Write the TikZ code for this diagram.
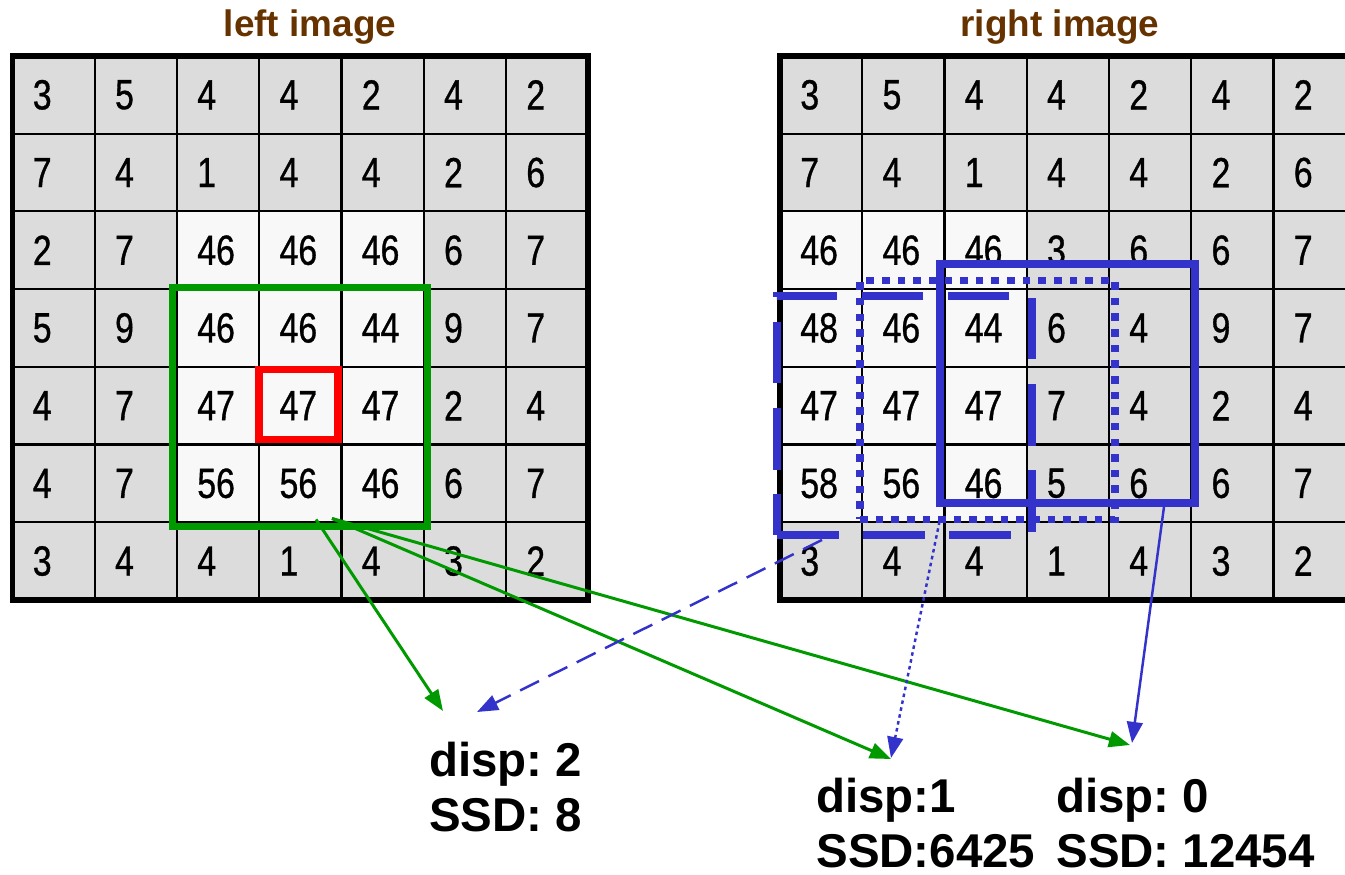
\documentclass[tikz,border=0pt]{standalone}
\usepackage{fontspec}
\setmainfont{Liberation Sans}
\newfontfamily\cellfont[FakeStretch=0.8, FakeBold=0.8]{Liberation Sans}
\usetikzlibrary{arrows.meta, positioning}
\definecolor{winGreen}{RGB}{0,153,0}
\definecolor{winBlue}{RGB}{51,51,204}
\definecolor{titleBrown}{RGB}{102,51,0}
\definecolor{cellGrey}{RGB}{220,220,220}
\definecolor{cellWhite}{RGB}{248,248,248}
\def\cellw{82.25}
\def\cellh{77.7}
\frenchspacing

\begin{document}
\begin{tikzpicture}[x=0.02cm, y=-0.02cm,
  val/.style={anchor=west, inner sep=0pt, font=\cellfont\fontsize{24}{24}\selectfont},
  title/.style={anchor=base, text=titleBrown, font=\bfseries\fontsize{21}{21}\selectfont},
  result/.style={anchor=north west, inner sep=0pt, align=left, font=\bfseries\fontsize{27}{31}\selectfont},
  gridline/.style={line width=1.2pt},
  frame/.style={line width=3.4pt},
  win/.style={line width=4.2pt, inner sep=0pt, outer sep=0pt, minimum width=5.1cm, minimum height=4.78cm},
  garrow/.style={winGreen, line width=1.7pt, -{Triangle[length=12pt,width=9pt]}},
  barrow/.style={winBlue, line width=1.4pt, -{Triangle[length=12pt,width=9pt]}}]
\clip (0,0) rectangle (1345,875);

\node[title] (ltitle) at (310,37) {left image};
\node[title] (rtitle) at (1060,37) {right image};

\begin{scope}[shift={(12.5,56)}]
\fill[cellGrey] (0,0) rectangle (7*\cellw,7*\cellh);
\fill[cellWhite] (2*\cellw,2*\cellh) rectangle (5*\cellw,6*\cellh);
\foreach \i in {1,...,6} {
  \draw[gridline] (\i*\cellw,0) -- (\i*\cellw,7*\cellh);
  \draw[gridline] (0,\i*\cellh) -- (7*\cellw,\i*\cellh);
}
\foreach \row [count=\r from 0] in {{3,5,4,4,2,4,2},{7,4,1,4,4,2,6},{2,7,46,46,46,6,7},{5,9,46,46,44,9,7},{4,7,47,47,47,2,4},{4,7,56,56,46,6,7},{3,4,4,1,4,3,2}}
  \foreach \v [count=\c from 0] in \row
    \node[val] (L-\r-\c) at (\c*\cellw+20,\r*\cellh+0.5*\cellh) {\v};
\draw[frame] (0,0) rectangle (7*\cellw,7*\cellh);
\end{scope}

\begin{scope}[shift={(780,56)}]
\fill[cellGrey] (0,0) rectangle (7*\cellw,7*\cellh);
\fill[cellWhite] (0,2*\cellh) rectangle (3*\cellw,6*\cellh);
\foreach \i in {1,...,6} {
  \draw[gridline] (\i*\cellw,0) -- (\i*\cellw,7*\cellh);
  \draw[gridline] (0,\i*\cellh) -- (7*\cellw,\i*\cellh);
}
\foreach \row [count=\r from 0] in {{3,5,4,4,2,4,2},{7,4,1,4,4,2,6},{46,46,46,3,6,6,7},{48,46,44,6,4,9,7},{47,47,47,7,4,2,4},{58,56,46,5,6,6,7},{3,4,4,1,4,3,2}}
  \foreach \v [count=\c from 0] in \row
    \node[val] (R-\r-\c) at (\c*\cellw+20,\r*\cellh+0.5*\cellh) {\v};
\draw[frame] (0,0) rectangle (7*\cellw,7*\cellh);
\end{scope}

\node[win, draw=winGreen] (gwin) at (300,407) {};
\draw[red, line width=4.4pt] (259,369.5) rectangle (338,439.5);
\node[win, draw=winBlue] (swin) at (1067.5,383.5) {};
\node[win, draw=winBlue, dash pattern=on 4.3pt off 4.6pt] (owin) at (987.5,400) {};
\node[win, draw=winBlue, dash pattern=on 35pt off 14pt] (dwin) at (904.5,415.5) {};

\node[result] (d2) at (429,742) {disp: 2\\SSD: 8};
\node[result] (d1) at (816,778) {disp:1\\SSD:6425};
\node[result] (d0) at (1056,778) {disp: 0\\SSD: 12454};

\draw[garrow] ([shift={(16,-7)}]gwin.south) -- ([shift={(14,-31)}]d2.north west);
\draw[garrow] ([shift={(32,-8)}]gwin.south) -- ([shift={(75,-19)}]d1.north west);
\draw[garrow] ([shift={(32,-8)}]gwin.south) -- ([shift={(74,-33)}]d0.north west);
\draw[barrow, dash pattern=on 12pt off 6pt] ([shift={(45,5)}]dwin.south west) -- ([shift={(48,-30)}]d2.north west);
\draw[barrow, dash pattern=on 2pt off 2pt] ([shift={(-48,2)}]owin.south) -- ([shift={(75,-20)}]d1.north west);
\draw[barrow] ([shift={(-31,4)}]swin.south east) -- ([shift={(76,-35)}]d0.north west);
\end{tikzpicture}
\end{document}
